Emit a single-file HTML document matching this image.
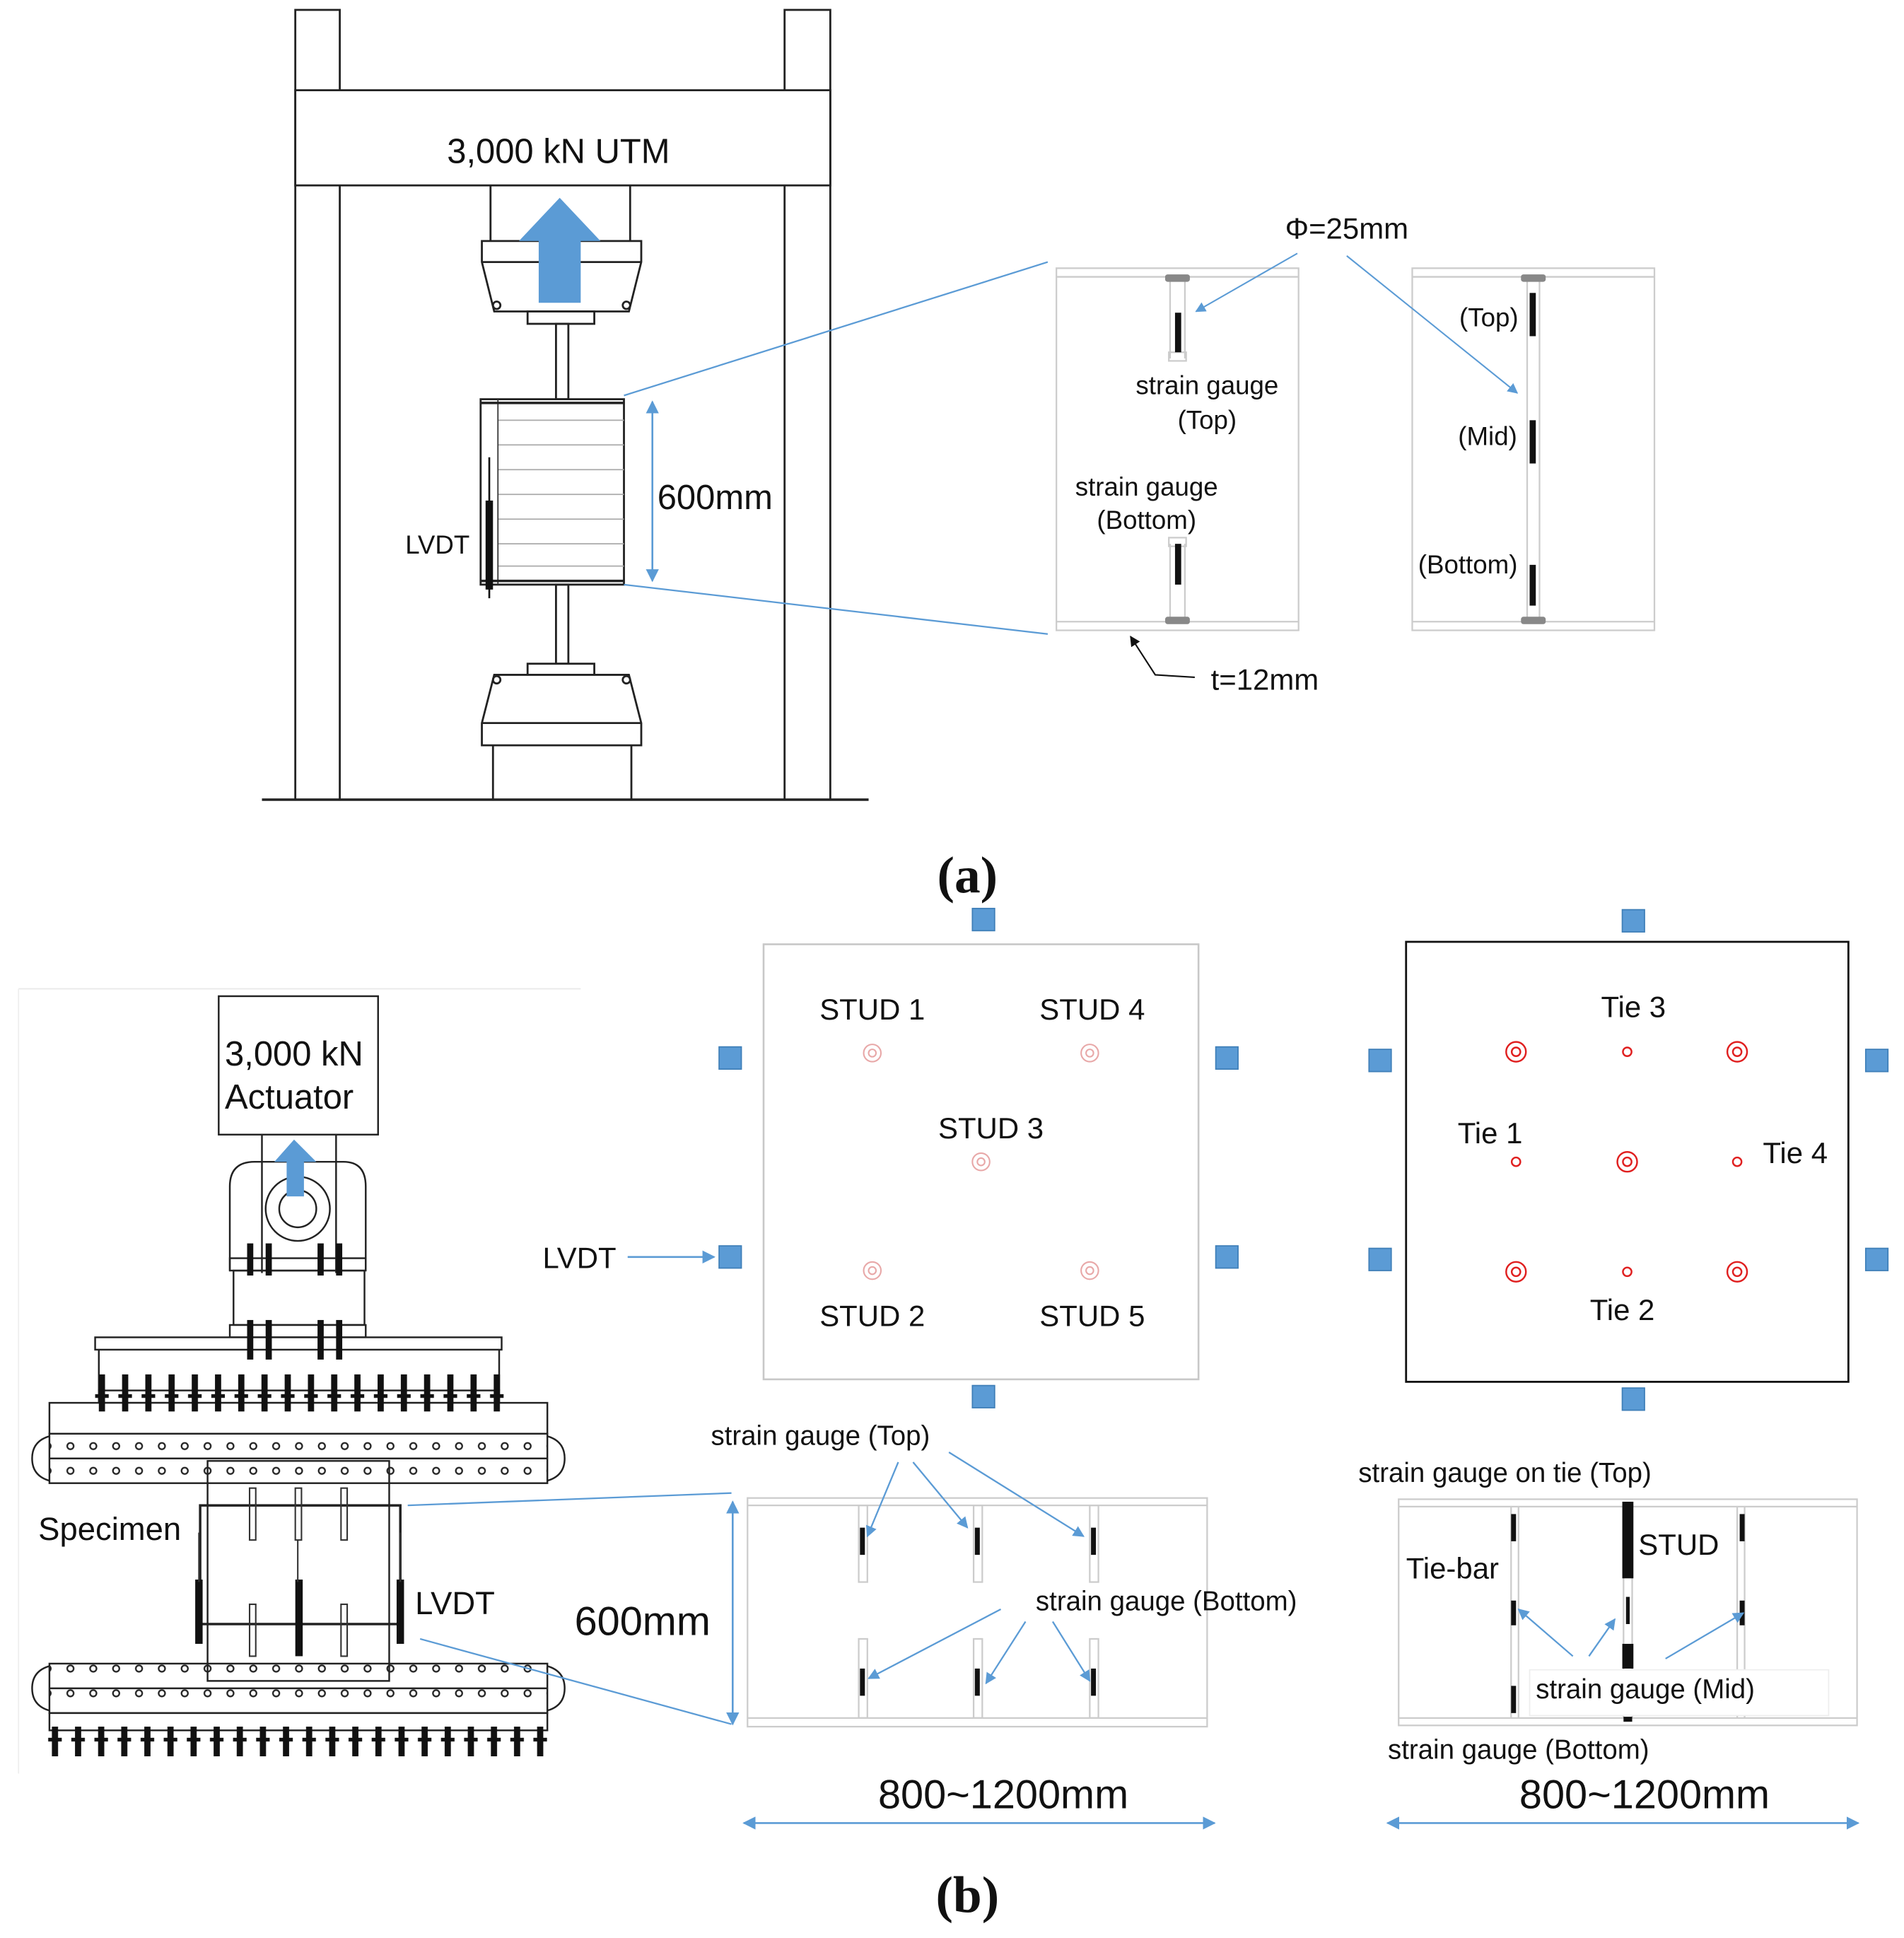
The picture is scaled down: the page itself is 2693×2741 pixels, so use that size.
<!DOCTYPE html>
<html><head><meta charset="utf-8"><style>
html,body{margin:0;padding:0;background:#fff}
svg{display:block}
text{font-family:"Liberation Sans",sans-serif;fill:#111}
</style></head><body>
<svg width="2693" height="2741" viewBox="0 0 1541 1568" preserveAspectRatio="none" xmlns="http://www.w3.org/2000/svg">
<defs>
<marker id="ab" viewBox="0 0 10 10" refX="9" refY="5" markerWidth="7" markerHeight="7" orient="auto-start-reverse"><path d="M0,0L10,5L0,10z" fill="#5b9bd5"/></marker>
<marker id="ak" viewBox="0 0 10 10" refX="9" refY="5" markerWidth="7" markerHeight="7" orient="auto"><path d="M0,0L10,5L0,10z" fill="#111"/></marker>
<pattern id="holes" x="48" y="0" width="18.5" height="20" patternUnits="userSpaceOnUse"><circle cx="9" cy="10" r="2.6" fill="none" stroke="#222" stroke-width="1.3"/></pattern>
<pattern id="bolts" x="74" y="0" width="18.8" height="40" patternUnits="userSpaceOnUse"><rect x="6" y="0" width="5" height="40" fill="#111"/><rect x="3" y="8" width="11" height="3" fill="#111"/></pattern>
<pattern id="bolts2" x="36" y="0" width="18.7" height="40" patternUnits="userSpaceOnUse"><rect x="6" y="0" width="5" height="40" fill="#111"/><rect x="3" y="6" width="11" height="3" fill="#111"/></pattern>
</defs>
<rect width="1541" height="1568" fill="#fff"/>

<!-- ===== (a) ===== -->
<g fill="none" stroke="#222" stroke-width="1.6">
<rect x="239" y="8" width="36" height="639"/>
<rect x="635" y="8" width="37" height="639"/>
<rect x="239" y="73" width="433" height="77" fill="#fff"/>
<line x1="212" y1="647" x2="703" y2="647" stroke-width="2"/>
<line x1="397" y1="150" x2="397" y2="195"/><line x1="510" y1="150" x2="510" y2="195"/>
<path d="M390,195 L519,195 L519,212 L509,252 L400,252 L390,212 Z" fill="#fff"/>
<line x1="390" y1="212" x2="519" y2="212"/>
<circle cx="402" cy="247" r="3"/><circle cx="507" cy="247" r="3"/>
<rect x="427" y="252" width="54" height="10" fill="#fff"/>
<rect x="450" y="262" width="10" height="61"/>
<rect x="389" y="323" width="116" height="150" fill="#fff"/>
<rect x="450" y="473" width="10" height="64"/>
<rect x="427" y="537" width="54" height="9" fill="#fff"/>
<path d="M400,546 L509,546 L519,585 L519,603 L390,603 L390,585 Z" fill="#fff"/>
<line x1="390" y1="585" x2="519" y2="585"/>
<circle cx="402" cy="550" r="3"/><circle cx="507" cy="550" r="3"/>
<line x1="399" y1="603" x2="399" y2="647"/><line x1="511" y1="603" x2="511" y2="647"/>
</g>
<g stroke="#aaa" stroke-width="1">
<line x1="403" y1="340" x2="505" y2="340"/><line x1="403" y1="360" x2="505" y2="360"/><line x1="403" y1="380" x2="505" y2="380"/><line x1="403" y1="400" x2="505" y2="400"/><line x1="403" y1="420" x2="505" y2="420"/><line x1="403" y1="440" x2="505" y2="440"/><line x1="403" y1="458" x2="505" y2="458"/>
<line x1="403" y1="323" x2="403" y2="473" stroke="#333"/>
</g>
<line x1="389" y1="326" x2="505" y2="326" stroke="#222" stroke-width="2"/>
<line x1="389" y1="470" x2="505" y2="470" stroke="#222" stroke-width="2"/>
<rect x="393" y="405" width="6" height="72" fill="#111"/>
<line x1="396" y1="370" x2="396" y2="484" stroke="#111" stroke-width="1.5"/>
<path d="M436,245 L436,195 L420,195 L453,160 L486,195 L470,195 L470,245 Z" fill="#5b9bd5"/>
<text x="452" y="132" font-size="28" text-anchor="middle">3,000 kN UTM</text>
<text x="532" y="412" font-size="28">600mm</text>
<text x="328" y="448" font-size="21">LVDT</text>
<line x1="528" y1="325" x2="528" y2="470" stroke="#5b9bd5" stroke-width="1.5" marker-start="url(#ab)" marker-end="url(#ab)"/>
<line x1="505" y1="320" x2="848" y2="212" stroke="#5b9bd5" stroke-width="1.3"/>
<line x1="505" y1="473" x2="848" y2="513" stroke="#5b9bd5" stroke-width="1.3"/>

<g fill="none" stroke="#ccc" stroke-width="1.3">
<rect x="855" y="217" width="196" height="293"/><line x1="855" y1="224" x2="1051" y2="224"/><line x1="855" y1="503" x2="1051" y2="503"/>
<rect x="1143" y="217" width="196" height="293"/><line x1="1143" y1="224" x2="1339" y2="224"/><line x1="1143" y1="503" x2="1339" y2="503"/>
<line x1="947" y1="224" x2="947" y2="290"/><line x1="959" y1="224" x2="959" y2="290"/><rect x="946" y="285" width="14" height="7"/>
<line x1="947" y1="440" x2="947" y2="503"/><line x1="959" y1="440" x2="959" y2="503"/><rect x="946" y="435" width="14" height="7"/>
<line x1="1236" y1="224" x2="1236" y2="503"/><line x1="1246" y1="224" x2="1246" y2="503"/>
</g>
<g fill="#888"><rect x="943" y="222" width="20" height="6" rx="2"/><rect x="943" y="499" width="20" height="6" rx="2"/><rect x="1231" y="222" width="20" height="6" rx="2"/><rect x="1231" y="499" width="20" height="6" rx="2"/></g>
<g fill="#111"><rect x="951" y="253" width="5" height="32"/><rect x="951" y="440" width="5" height="33"/>
<rect x="1238" y="237" width="5" height="35"/><rect x="1238" y="340" width="5" height="35"/><rect x="1238" y="457" width="5" height="33"/></g>
<g font-size="21" text-anchor="middle">
<text x="977" y="319">strain gauge</text><text x="977" y="347">(Top)</text>
<text x="928" y="401">strain gauge</text><text x="928" y="428">(Bottom)</text>
<text x="1205" y="264">(Top)</text><text x="1204" y="360">(Mid)</text><text x="1188" y="464">(Bottom)</text>
</g>
<text x="1090" y="193" font-size="24" text-anchor="middle">Φ=25mm</text>
<line x1="1050" y1="205" x2="968" y2="252" stroke="#5b9bd5" stroke-width="1.2" marker-end="url(#ab)"/>
<line x1="1090" y1="207" x2="1228" y2="318" stroke="#5b9bd5" stroke-width="1.2" marker-end="url(#ab)"/>
<text x="980" y="558" font-size="24">t=12mm</text>
<polyline points="967,548 935,546 915,515" fill="none" stroke="#111" stroke-width="1.2" marker-end="url(#ak)"/>
<text x="783" y="722" font-size="42" font-weight="bold" text-anchor="middle" style="font-family:'Liberation Serif',serif">(a)</text>

<!-- ===== (b) plans ===== -->
<rect x="618" y="764" width="352" height="352" fill="none" stroke="#c8c8c8" stroke-width="1.5"/>
<rect x="1138" y="762" width="358" height="356" fill="none" stroke="#111" stroke-width="1.6"/>
<g fill="#5b9bd5" stroke="#3f7fb8" stroke-width="1">
<rect x="787" y="735" width="18" height="18"/><rect x="582" y="847" width="18" height="18"/><rect x="984" y="847" width="18" height="18"/>
<rect x="582" y="1008" width="18" height="18"/><rect x="984" y="1008" width="18" height="18"/><rect x="787" y="1121" width="18" height="18"/>
<rect x="1313" y="736" width="18" height="18"/><rect x="1108" y="849" width="18" height="18"/><rect x="1510" y="849" width="18" height="18"/>
<rect x="1108" y="1010" width="18" height="18"/><rect x="1510" y="1010" width="18" height="18"/><rect x="1313" y="1123" width="18" height="18"/>
</g>
<g fill="none" stroke="#e8a8a8" stroke-width="1.2">
<circle cx="706" cy="852" r="7"/><circle cx="706" cy="852" r="3"/>
<circle cx="882" cy="852" r="7"/><circle cx="882" cy="852" r="3"/>
<circle cx="794" cy="940" r="7"/><circle cx="794" cy="940" r="3"/>
<circle cx="706" cy="1028" r="7"/><circle cx="706" cy="1028" r="3"/>
<circle cx="882" cy="1028" r="7"/><circle cx="882" cy="1028" r="3"/>
</g>
<g fill="none" stroke="#e02020" stroke-width="1.4">
<circle cx="1227" cy="851" r="8"/><circle cx="1227" cy="851" r="3.5"/>
<circle cx="1406" cy="851" r="8"/><circle cx="1406" cy="851" r="3.5"/>
<circle cx="1317" cy="940" r="8"/><circle cx="1317" cy="940" r="3.5"/>
<circle cx="1227" cy="1029" r="8"/><circle cx="1227" cy="1029" r="3.5"/>
<circle cx="1406" cy="1029" r="8"/><circle cx="1406" cy="1029" r="3.5"/>
<circle cx="1317" cy="851" r="3.5"/><circle cx="1227" cy="940" r="3.5"/><circle cx="1406" cy="940" r="3.5"/><circle cx="1317" cy="1029" r="3.5"/>
</g>
<g font-size="24" text-anchor="middle">
<text x="706" y="825">STUD 1</text><text x="884" y="825">STUD 4</text><text x="802" y="921">STUD 3</text>
<text x="706" y="1073">STUD 2</text><text x="884" y="1073">STUD 5</text>
<text x="1322" y="823">Tie 3</text><text x="1206" y="925">Tie 1</text><text x="1453" y="941">Tie 4</text><text x="1313" y="1068">Tie 2</text>
<text x="469" y="1026">LVDT</text>
</g>
<line x1="508" y1="1017" x2="578" y2="1017" stroke="#5b9bd5" stroke-width="1.5" marker-end="url(#ab)"/>

<!-- ===== (b) apparatus ===== -->
<line x1="15" y1="800" x2="470" y2="800" stroke="#e8e8e8"/>
<line x1="15" y1="800" x2="15" y2="1435" stroke="#eee"/>
<g fill="none" stroke="#222" stroke-width="1.4">
<rect x="177" y="806" width="129" height="112" fill="#fff"/>
<line x1="212" y1="918" x2="212" y2="1030"/><line x1="272" y1="918" x2="272" y2="1030"/>
<path d="M186,1028 L186,960 Q186,940 206,940 L278,940 Q296,940 296,960 L296,1028"/>
<circle cx="241" cy="978" r="26"/><circle cx="241" cy="978" r="15"/>
<rect x="186" y="1018" width="110" height="10"/>
<rect x="189" y="1028" width="106" height="44"/>
<rect x="186" y="1072" width="110" height="10"/>
<rect x="77" y="1082" width="329" height="10" fill="#fff"/>
<line x1="80" y1="1092" x2="80" y2="1125"/><line x1="404" y1="1092" x2="404" y2="1125"/>
<rect x="80" y="1125" width="324" height="10"/>
<rect x="40" y="1135" width="403" height="25" fill="#fff"/>
<rect x="40" y="1160" width="403" height="40"/><line x1="40" y1="1180" x2="443" y2="1180"/>
<path d="M40,1162 Q26,1166 26,1180 Q26,1194 40,1198"/><path d="M443,1162 Q457,1166 457,1180 Q457,1194 443,1198"/>
<rect x="40" y="1346" width="403" height="40"/><line x1="40" y1="1366" x2="443" y2="1366"/>
<rect x="40" y="1386" width="403" height="14"/>
<path d="M40,1348 Q26,1352 26,1366 Q26,1380 40,1384"/><path d="M443,1348 Q457,1352 457,1366 Q457,1380 443,1384"/>
<rect x="168" y="1182" width="147" height="178"/>
<rect x="162" y="1218" width="162" height="96" stroke-width="2"/>
</g>
<rect x="40" y="1160" width="403" height="20" fill="url(#holes)"/>
<rect x="40" y="1180" width="403" height="20" fill="url(#holes)"/>
<rect x="40" y="1346" width="403" height="20" fill="url(#holes)"/>
<rect x="40" y="1366" width="403" height="20" fill="url(#holes)"/>
<rect x="74" y="1112" width="338" height="30" fill="url(#bolts)"/>
<rect x="36" y="1397" width="412" height="24" fill="url(#bolts2)"/>
<g fill="#111">
<rect x="200" y="1006" width="5" height="26"/><rect x="215" y="1006" width="5" height="26"/><rect x="257" y="1006" width="5" height="26"/><rect x="272" y="1006" width="5" height="26"/>
<rect x="200" y="1068" width="5" height="32"/><rect x="215" y="1068" width="5" height="32"/><rect x="257" y="1068" width="5" height="32"/><rect x="272" y="1068" width="5" height="32"/>
<rect x="158" y="1278" width="6" height="52"/><rect x="239" y="1278" width="6" height="62"/><rect x="321" y="1278" width="6" height="52"/>
</g>
<g fill="none" stroke="#333" stroke-width="1.2">
<rect x="202" y="1204" width="5" height="42"/><rect x="239" y="1204" width="5" height="42"/><rect x="276" y="1204" width="5" height="42"/>
<rect x="202" y="1298" width="5" height="42"/><rect x="276" y="1298" width="5" height="42"/>
<line x1="241" y1="1246" x2="241" y2="1280"/><line x1="161" y1="1240" x2="161" y2="1280"/><line x1="324" y1="1240" x2="324" y2="1280"/>
</g>
<path d="M232,968 L232,940 L222,940 L238,922 L256,940 L246,940 L246,968 Z" fill="#5b9bd5"/>
<g font-size="28">
<text x="182" y="862">3,000 kN</text><text x="182" y="897">Actuator</text>
</g>
<text x="31" y="1246" font-size="26">Specimen</text>
<text x="336" y="1306" font-size="26">LVDT</text>
<line x1="330" y1="1218" x2="592" y2="1208" stroke="#5b9bd5" stroke-width="1.3"/>
<line x1="340" y1="1326" x2="592" y2="1395" stroke="#5b9bd5" stroke-width="1.3"/>

<!-- elevation 1 -->
<g fill="none" stroke="#ccc" stroke-width="1.3">
<rect x="605" y="1212" width="372" height="185"/><line x1="605" y1="1218" x2="977" y2="1218"/><line x1="605" y1="1390" x2="977" y2="1390"/>
<rect x="695" y="1218" width="7" height="62"/><rect x="788" y="1218" width="7" height="62"/><rect x="882" y="1218" width="7" height="62"/>
<rect x="695" y="1326" width="7" height="64"/><rect x="788" y="1326" width="7" height="64"/><rect x="882" y="1326" width="7" height="64"/>
</g>
<g fill="#111"><rect x="696" y="1236" width="4" height="22"/><rect x="789" y="1236" width="4" height="22"/><rect x="883" y="1236" width="4" height="22"/>
<rect x="696" y="1350" width="4" height="22"/><rect x="789" y="1350" width="4" height="22"/><rect x="883" y="1350" width="4" height="22"/></g>
<line x1="593" y1="1215" x2="593" y2="1395" stroke="#5b9bd5" stroke-width="1.5" marker-start="url(#ab)" marker-end="url(#ab)"/>
<text x="520" y="1323" font-size="33" text-anchor="middle">600mm</text>
<text x="664" y="1169" font-size="22" text-anchor="middle">strain gauge (Top)</text>
<text x="944" y="1303" font-size="22" text-anchor="middle">strain gauge (Bottom)</text>
<g stroke="#5b9bd5" stroke-width="1.3" marker-end="url(#ab)">
<line x1="727" y1="1183" x2="702" y2="1243"/><line x1="739" y1="1183" x2="783" y2="1236"/><line x1="768" y1="1175" x2="877" y2="1243"/>
<line x1="810" y1="1302" x2="703" y2="1358"/><line x1="830" y1="1312" x2="798" y2="1362"/><line x1="852" y1="1312" x2="882" y2="1360"/>
</g>
<text x="812" y="1463" font-size="33" text-anchor="middle">800~1200mm</text>
<line x1="602" y1="1475" x2="983" y2="1475" stroke="#5b9bd5" stroke-width="1.5" marker-start="url(#ab)" marker-end="url(#ab)"/>

<!-- elevation 2 -->
<g fill="none" stroke="#ccc" stroke-width="1.3">
<rect x="1132" y="1213" width="371" height="183"/><line x1="1132" y1="1219" x2="1503" y2="1219"/><line x1="1132" y1="1390" x2="1503" y2="1390"/>
<line x1="1223" y1="1219" x2="1223" y2="1390"/><line x1="1229" y1="1219" x2="1229" y2="1390"/>
<line x1="1406" y1="1219" x2="1406" y2="1390"/><line x1="1412" y1="1219" x2="1412" y2="1390"/>
<line x1="1314" y1="1219" x2="1314" y2="1390"/><line x1="1321" y1="1219" x2="1321" y2="1390"/>
</g>
<g fill="#111">
<rect x="1313" y="1215" width="9" height="62"/><rect x="1313" y="1330" width="9" height="20"/><rect x="1316" y="1292" width="3" height="22"/><rect x="1314" y="1389" width="7" height="4"/>
<rect x="1223" y="1225" width="4" height="22"/><rect x="1223" y="1295" width="4" height="20"/><rect x="1223" y="1364" width="4" height="22"/>
<rect x="1408" y="1225" width="4" height="22"/><rect x="1408" y="1295" width="4" height="20"/>
</g>
<rect x="1238" y="1351" width="242" height="37" fill="#fff" stroke="#eee"/>
<g font-size="22">
<text x="1218" y="1199" text-anchor="middle">strain gauge on tie (Top)</text>
<text x="1326" y="1258" font-size="24">STUD</text>
<text x="1138" y="1277" font-size="24">Tie-bar</text>
<text x="1243" y="1374">strain gauge (Mid)</text>
<text x="1229" y="1423" text-anchor="middle">strain gauge (Bottom)</text>
</g>
<g stroke="#5b9bd5" stroke-width="1.3" marker-end="url(#ab)">
<line x1="1273" y1="1340" x2="1229" y2="1302"/><line x1="1286" y1="1340" x2="1307" y2="1310"/><line x1="1348" y1="1342" x2="1411" y2="1305"/>
</g>
<text x="1331" y="1463" font-size="33" text-anchor="middle">800~1200mm</text>
<line x1="1123" y1="1475" x2="1504" y2="1475" stroke="#5b9bd5" stroke-width="1.5" marker-start="url(#ab)" marker-end="url(#ab)"/>
<text x="783" y="1547" font-size="42" font-weight="bold" text-anchor="middle" style="font-family:'Liberation Serif',serif">(b)</text>
</svg>
</body></html>
